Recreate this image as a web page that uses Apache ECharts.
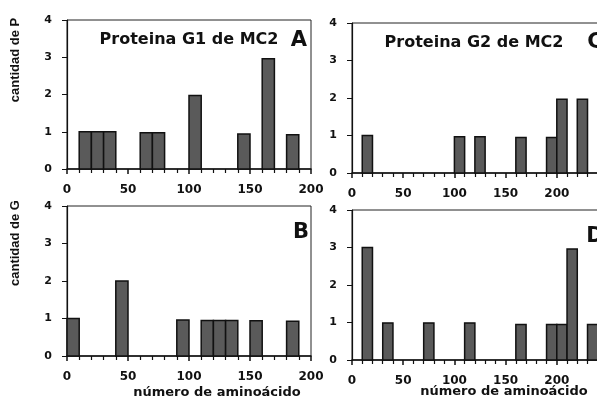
<!DOCTYPE html>
<html>
<head>
<meta charset="utf-8">
<script src="https://cdn.jsdelivr.net/npm/echarts@6/dist/echarts.min.js"></script>
<style>
  html, body { margin: 0; padding: 0; background: #fff; }
  #chart { width: 597px; height: 405px; }
</style>
</head>
<body>
<div id="chart"></div>
<script>
// inicio de cada intervalo (10 aminoácidos) y cantidad
const binsA = [10, 20, 30, 60, 70, 100, 140, 160, 180];
const countsA = [1, 1, 1, 0.97, 0.97, 1.97, 0.94, 2.96, 0.92];

const binsB = [0, 40, 90, 110, 120, 130, 150, 180];
const countsB = [1, 2, 0.96, 0.95, 0.95, 0.95, 0.94, 0.93];

const binsC = [10, 100, 120, 160, 190, 200, 220, 240];
const countsC = [1, 0.97, 0.97, 0.95, 0.95, 1.97, 1.97, 1.5];

const binsD = [10, 30, 70, 110, 160, 190, 200, 210, 230];
const countsD = [3, 0.99, 0.99, 0.99, 0.95, 0.95, 0.95, 2.96, 0.95];

const binWidth = 10;
const titles = ['Proteina G1 de MC2', 'Proteina G2 de MC2'];
const letters = ['A', 'B', 'C', 'D'];
const yNames = ['cantidad de P', 'cantidad de G'];
const xName = 'número de aminoácido';

const chart = echarts.init(document.getElementById('chart'));

const FONT = 'DejaVu Sans';
const grids = [
  { left: 67, top: 20, width: 244, height: 149 },
  { left: 67, top: 206, width: 244, height: 150 },
  { left: 352, top: 23, width: 256, height: 150 },
  { left: 352, top: 210, width: 256, height: 150 }
];
const xMax = [200, 200, 250, 250];
const sets = [[binsA, countsA], [binsB, countsB], [binsC, countsC], [binsD, countsD]];

function renderBar(params, api) {
  const x0 = api.value(0);
  const p0 = api.coord([x0, api.value(1)]);
  const p1 = api.coord([x0 + binWidth, 0]);
  return {
    type: 'rect',
    shape: { x: p0[0], y: p0[1], width: p1[0] - p0[0], height: p1[1] - p0[1] },
    style: { fill: '#5a5a5a', stroke: '#111', lineWidth: 1.5 }
  };
}

function label(text, x, y, font, rot) {
  return { type: 'text', x: x, y: y, rotation: rot || 0,
    style: { text: text, font: font, fill: '#111', align: 'center', verticalAlign: 'middle' } };
}

const option = {
  backgroundColor: '#fff',
  animation: false,
  grid: grids.map(g => Object.assign({ show: true, borderColor: '#222', borderWidth: 1, outerBoundsMode: 'none' }, g)),
  xAxis: grids.map((g, i) => ({
    type: 'value', gridIndex: i, min: 0, max: xMax[i], interval: 50,
    axisLine: { onZero: false, lineStyle: { color: '#111', width: 1.5 } },
    axisTick: { length: 5, lineStyle: { color: '#111', width: 1.5 } },
    minorTick: { show: true, splitNumber: 5, length: 4, lineStyle: { color: '#111', width: 1.2 } },
    axisLabel: { fontFamily: FONT, fontWeight: 'bold', fontSize: 12, color: '#111', margin: 15,
      showMaxLabel: i < 2 },
    splitLine: { show: false }
  })),
  yAxis: grids.map((g, i) => ({
    type: 'value', gridIndex: i, min: 0, max: 4, interval: 1,
    axisLine: { show: true, lineStyle: { color: '#111', width: 1.2 } },
    axisTick: { show: true, length: 5, lineStyle: { color: '#111' } },
    axisLabel: { fontFamily: FONT, fontWeight: 'bold', fontSize: 11, color: '#111', margin: 15 },
    splitLine: { show: false }
  })),
  graphic: [
    label(titles[0], 189, 40, 'bold 16px "DejaVu Sans"'),
    label(titles[1], 474, 43, 'bold 16px "DejaVu Sans"'),
    label(letters[0], 299, 41, 'bold 21px "DejaVu Sans"'),
    label(letters[1], 301, 233, 'bold 21px "DejaVu Sans"'),
    label(letters[2], 595, 43, 'bold 21px "DejaVu Sans"'),
    label(letters[3], 595, 237, 'bold 21px "DejaVu Sans"'),
    label(yNames[0], 15, 60, 'bold 13px "Liberation Sans"', Math.PI / 2),
    label(yNames[1], 15, 243, 'bold 13px "Liberation Sans"', Math.PI / 2),
    label(xName, 217, 393, 'bold 13px "DejaVu Sans"'),
    label(xName, 504, 392, 'bold 13px "DejaVu Sans"')
  ],
  series: sets.map((s, i) => ({
    type: 'custom', xAxisIndex: i, yAxisIndex: i,
    renderItem: renderBar,
    encode: { x: 0, y: 1 },
    data: s[0].map((b, k) => [b, s[1][k]])
  }))
};

chart.setOption(option);
</script>
</body>
</html>
